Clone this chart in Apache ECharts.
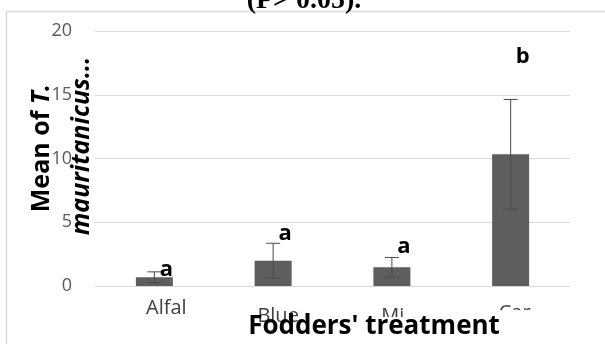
<!DOCTYPE html>
<html>
<head>
<meta charset="utf-8">
<script src="https://cdn.jsdelivr.net/npm/echarts@6/dist/echarts.min.js"></script>
<style>
  html, body { margin: 0; padding: 0; background: #ffffff; }
  #chart { width: 605px; height: 344px; }
</style>
</head>
<body>
<div id="chart"></div>
<script>
// Fodder treatments and mean counts with their error (± half-range)
const categories = ['Alfal', 'Blue', 'Mi', 'Car'];
const means = [0.68, 1.98, 1.47, 10.33];
const errors = [0.43, 1.37, 0.77, 4.3];
// Significance group letters and the height (in data units) they sit at
const groupLetters = ['a', 'a', 'a', 'b'];
const groupLetterLevel = [1.25, 4.1, 3.05, 18.0];
const yTicks = [0, 5, 10, 15, 20];

const FONT = '"Open Sans", "Noto Sans", sans-serif';

// per-label nudges [top, left] for the category labels
const labelNudge = [[0, 24], [8, 10], [8, 2], [5, 8]];

const chart = echarts.init(document.getElementById('chart'));

const errorData = means.map((m, i) => [i, m - errors[i], m + errors[i]]);
const letterData = groupLetters.map((l, i) => [i, groupLetterLevel[i]]);
const categoryItems = categories.map((c, i) => ({
  value: c,
  textStyle: { padding: [labelNudge[i][0], 0, 0, labelNudge[i][1]] }
}));

chart.setOption({
  animation: false,
  backgroundColor: '#ffffff',
  grid: { left: 95, right: 35, top: 31, bottom: 58 },
  xAxis: {
    type: 'category',
    data: categoryItems,
    axisLine: { show: false },
    axisTick: { show: false },
    axisLabel: {
      color: '#404040', fontSize: 20, fontFamily: FONT,
      margin: 12
    }
  },
  yAxis: {
    type: 'value',
    min: yTicks[0],
    max: yTicks[yTicks.length - 1],
    interval: 5,
    axisLine: { show: false },
    axisTick: { show: false },
    splitLine: { lineStyle: { color: '#d9d9d9', width: 1 } },
    axisLabel: {
      color: '#595959', fontSize: 18, fontFamily: FONT,
      margin: 23
    }
  },
  series: [
    {
      type: 'bar',
      data: means,
      barWidth: 37,
      itemStyle: { color: '#5e5e5e' },
      z: 2
    },
    {
      // error bars with caps
      type: 'custom',
      data: errorData,
      z: 3,
      renderItem: function (params, api) {
        const x = api.coord([api.value(0), 0])[0];
        const lo = api.coord([api.value(0), api.value(1)])[1];
        const hi = api.coord([api.value(0), api.value(2)])[1];
        const half = 7;
        const style = { stroke: '#4a4a4a', lineWidth: 1 };
        return {
          type: 'group',
          children: [
            { type: 'line', shape: { x1: x, y1: lo, x2: x, y2: hi }, style: style },
            { type: 'line', shape: { x1: x - half, y1: hi, x2: x + half, y2: hi }, style: style },
            { type: 'line', shape: { x1: x - half, y1: lo, x2: x + half, y2: lo }, style: style }
          ]
        };
      }
    },
    {
      // group letters
      type: 'custom',
      data: letterData,
      z: 4,
      renderItem: function (params, api) {
        const p = api.coord([api.value(0), api.value(1)]);
        return {
          type: 'text',
          x: p[0] + 12,
          y: p[1],
          style: {
            text: groupLetters[params.dataIndex],
            fill: '#000000',
            font: 'bold 22px ' + FONT,
            align: 'center',
            verticalAlign: 'middle'
          }
        };
      }
    }
  ],
  graphic: [
    {
      // chart frame
      type: 'rect', z: 0, silent: true,
      shape: { x: 6.5, y: 11.5, width: 700, height: 400 },
      style: { fill: 'none', stroke: '#d9d9d9', lineWidth: 1.5 }
    },
    {
      type: 'text', z: 10,
      x: 304, y: 15,
      style: {
        text: '(P> 0.05).',
        fill: '#000000',
        font: 'bold 28px "Liberation Serif", "DejaVu Serif", serif',
        align: 'center', verticalAlign: 'bottom'
      }
    },
    {
      // masks under the x-axis title
      type: 'rect', z: 10, silent: true,
      shape: { x: 372, y: 317, width: 40, height: 27 },
      style: { fill: '#ffffff' }
    },
    {
      type: 'rect', z: 10, silent: true,
      shape: { x: 480, y: 310, width: 70, height: 34 },
      style: { fill: '#ffffff' }
    },
    {
      type: 'text', z: 11,
      x: 374, y: 327,
      style: {
        text: "Fodders' treatment",
        fill: '#000000',
        font: 'bold 26px ' + FONT,
        align: 'center', verticalAlign: 'middle'
      }
    },
    {
      type: 'text', z: 11,
      x: 42, y: 148, rotation: Math.PI / 2,
      style: {
        rich: {
          r: { font: 'bold 25px ' + FONT, fill: '#000000' },
          i: { font: 'italic bold 25px ' + FONT, fill: '#000000' }
        },
        text: '{r|Mean of }{i|T.}',
        align: 'center', verticalAlign: 'middle'
      }
    },
    {
      type: 'text', z: 11,
      x: 82, y: 146, rotation: Math.PI / 2,
      style: {
        text: 'mauritanicus...',
        fill: '#000000',
        font: 'italic bold 25px ' + FONT,
        align: 'center', verticalAlign: 'middle'
      }
    }
  ]
});
</script>
</body>
</html>
